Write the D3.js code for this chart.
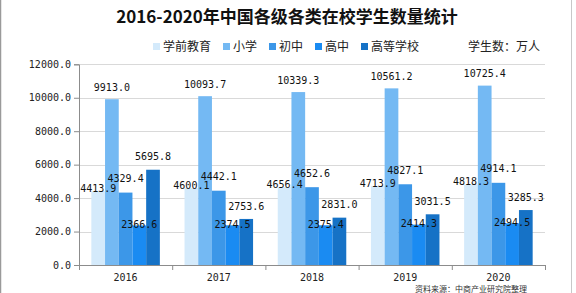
<!DOCTYPE html>
<html>
<head>
<meta charset="utf-8">
<script src="https://cdn.jsdelivr.net/npm/d3@7"></script>
<style>
  html, body { margin: 0; padding: 0; background: #fff; }
  svg { display: block; }
</style>
</head>
<body>
<svg id="chart" width="576" height="293"></svg>
<script>
// ---- data ----
const years = ["2016", "2017", "2018", "2019", "2020"];
const seriesNames = ["学前教育", "小学", "初中", "高中", "高等学校"];
const preschool = [4413.9, 4600.1, 4656.4, 4713.9, 4818.3];
const primary   = [9913.0, 10093.7, 10339.3, 10561.2, 10725.4];
const junior    = [4329.4, 4442.1, 4652.6, 4827.1, 4914.1];
const senior    = [2366.6, 2374.5, 2375.4, 2414.3, 2494.5];
const higher    = [5695.8, 2753.6, 2831.0, 3031.5, 3285.3];
const yTicks = [0, 2000, 4000, 6000, 8000, 10000, 12000];
const titleText = "2016-2020年中国各级各类在校学生数量统计";
const unitText = "学生数：万人";
const sourceText = "资料来源：中商产业研究院整理";

const seriesValues = [preschool, primary, junior, senior, higher];
const colors = ["#d4eafb", "#74b9f3", "#3c97e8", "#1a8bf2", "#1672c6"];
// label vertical placement (center offset from bar top), per series
const labelDy = [-3, -12, -14, -1, -13];

const svg = d3.select("#chart");
const monoFont = "'DejaVu Sans Mono', 'Liberation Mono', monospace";
const cjkFont = "'Noto Sans CJK SC', 'Noto Sans', sans-serif";

// page frame
svg.append("line").attr("x1", 0.5).attr("x2", 0.5).attr("y1", 0).attr("y2", 293)
  .attr("stroke", "#9a9a9a").attr("stroke-width", 1.5);
svg.append("line").attr("x1", 571.5).attr("x2", 571.5).attr("y1", 0).attr("y2", 293)
  .attr("stroke", "#c8c8c8").attr("stroke-width", 1);

// scales
const x0 = d3.scaleBand().domain(years).range([79, 545]).paddingInner(0).paddingOuter(0);
const x1 = d3.scaleBand().domain(seriesNames).range([0, x0.bandwidth()]).paddingInner(0).paddingOuter(0.9);
const y = d3.scaleLinear().domain([0, 12000]).range([265, 64.3]);

// gridlines
svg.append("g").selectAll("line").data(yTicks.filter(d => d > 0)).join("line")
  .attr("x1", 79).attr("x2", 545)
  .attr("y1", d => Math.round(y(d)) + 0.5).attr("y2", d => Math.round(y(d)) + 0.5)
  .attr("stroke", "#d9d9d9").attr("stroke-width", 1);

// bars
const groups = svg.append("g").selectAll("g").data(years).join("g")
  .attr("transform", d => `translate(${x0(d)},0)`);
groups.selectAll("rect")
  .data((yr, i) => seriesNames.map((s, j) => ({ s, j, v: seriesValues[j][i] })))
  .join("rect")
  .attr("x", d => x1(d.s))
  .attr("width", x1.bandwidth())
  .attr("y", d => y(d.v))
  .attr("height", d => y(0) - y(d.v))
  .attr("fill", d => colors[d.j]);

// y axis
const yAxis = svg.append("g").attr("transform", "translate(79,0)")
  .call(d3.axisLeft(y).tickValues(yTicks).tickFormat(d3.format(".1f")).tickSize(5).tickPadding(3));
yAxis.select(".domain").attr("stroke", "#8c8c8c");
yAxis.selectAll(".tick line").attr("stroke", "#8c8c8c");
yAxis.selectAll("text").attr("font-family", monoFont).attr("font-size", 10).attr("fill", "#222");

// x axis
const xAxis = svg.append("g").attr("transform", "translate(0,265)")
  .call(d3.axisBottom(x0).tickSize(0).tickPadding(9).tickSizeOuter(0));
xAxis.select(".domain").attr("stroke", "#8c8c8c");
xAxis.selectAll("text").attr("font-family", monoFont).attr("font-size", 10).attr("fill", "#222");
const boundaries = years.map(d => x0(d)).concat([x0(years[years.length - 1]) + x0.bandwidth()]);
xAxis.selectAll(".bound").data(boundaries).join("line").attr("class", "bound")
  .attr("x1", d => d + 0.5).attr("x2", d => d + 0.5).attr("y1", 0).attr("y2", 5)
  .attr("stroke", "#8c8c8c");

// value labels
groups.selectAll("text.val")
  .data((yr, i) => seriesNames.map((s, j) => ({ s, j, v: seriesValues[j][i] })))
  .join("text").attr("class", "val")
  .attr("x", d => x1(d.s) + x1.bandwidth() / 2)
  .attr("y", d => y(d.v) + labelDy[d.j] + 3.6)
  .attr("text-anchor", "middle")
  .attr("font-family", monoFont).attr("font-size", 10).attr("fill", "#111")
  .text(d => d3.format(".1f")(d.v));

// title
svg.append("text").attr("x", 287).attr("y", 23)
  .attr("text-anchor", "middle").attr("font-family", cjkFont)
  .attr("font-weight", "bold").attr("font-size", 17).attr("fill", "#111")
  .text(titleText);

// legend
let lx = 153;
const legend = svg.append("g");
seriesNames.forEach((s, j) => {
  legend.append("rect").attr("x", lx).attr("y", 43).attr("width", 7).attr("height", 7).attr("fill", colors[j]);
  legend.append("text").attr("x", lx + 10).attr("y", 51)
    .attr("font-family", cjkFont).attr("font-size", 12).attr("fill", "#222").text(s);
  lx += 10 + s.length * 12 + 12;
});
svg.append("text").attr("x", 468).attr("y", 51)
  .attr("font-family", cjkFont).attr("font-size", 12).attr("fill", "#222").text(unitText);

// source line at the bottom edge
svg.append("text").attr("x", 415).attr("y", 292)
  .attr("font-family", cjkFont).attr("font-size", 8).attr("fill", "#333").text(sourceText);
</script>
</body>
</html>
